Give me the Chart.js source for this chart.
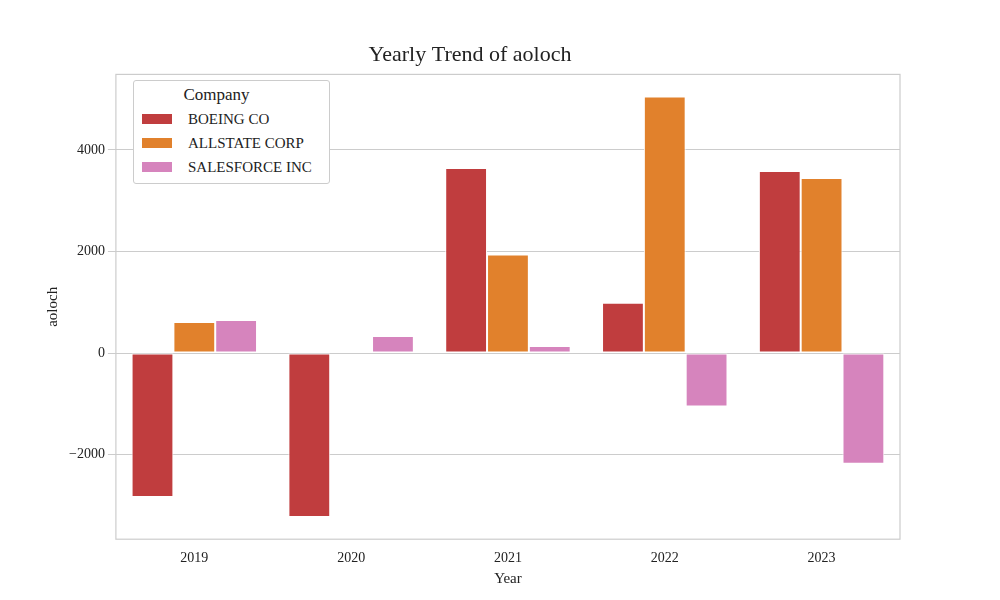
<!DOCTYPE html>
<html><head><meta charset="utf-8">
<script src="https://cdn.jsdelivr.net/npm/chart.js@4"></script>
<style>
body{margin:0;background:#fff;font-family:"Liberation Serif",serif;}
#wrap{position:relative;width:1000px;height:600px;}
#legend{position:absolute;left:133px;top:80px;width:195px;border:1px solid #ccc;border-radius:3px;background:#fff;font-size:15px;color:#222;padding:4px 0 4px 0;}
#legend .t{text-align:center;font-size:17px;margin-bottom:2px;margin-left:-30px}
#legend .r{display:flex;align-items:center;height:24px;padding-left:8px}
#legend .s{width:30px;height:10px;margin-right:16px}
</style></head>
<body><div id="wrap"><canvas id="c" width="1000" height="600"></canvas><div id="legend"></div></div>
<script>
const years = ['2019','2020','2021','2022','2023'];
const companies = ['BOEING CO','ALLSTATE CORP','SALESFORCE INC'];
const boeing = [-2832, -3228, 3644, 990, 3584];
const allstate = [614, 0, 1941, 5050, 3446];
const salesforce = [653, 337, 139, -1050, -2178];
const colors = ['#c03d3e','#e1812c','#d684bd'];
const series = [boeing, allstate, salesforce];

const leg = document.getElementById('legend');
leg.innerHTML = '<div class="t">Company</div>' + companies.map((c,i) =>
  `<div class="r"><div class="s" style="background:${colors[i]}"></div>${c}</div>`).join('');

const frame = {
  id: 'frame',
  afterDraw(chart) {
    const a = chart.chartArea, ctx = chart.ctx;
    ctx.save(); ctx.strokeStyle = '#ccc'; ctx.lineWidth = 1.2;
    ctx.strokeRect(a.left, a.top, a.right - a.left, a.bottom - a.top);
    ctx.restore();
  }
};

new Chart(document.getElementById('c'), {
  type: 'bar',
  data: {
    labels: years,
    datasets: series.map((d,i) => ({
      label: companies[i], data: d, backgroundColor: colors[i],
      borderColor: '#fff', borderWidth: 1, borderSkipped: false
    }))
  },
  options: {
    responsive: false, animation: false,
    categoryPercentage: 0.8, barPercentage: 1,
    layout: { padding: { left: 40, right: 100, top: 0, bottom: 12 } },
    plugins: {
      legend: { display: false },
      tooltip: { enabled: false },
      title: { display: true, text: 'Yearly Trend of aoloch', color: '#222',
        font: { family: 'Liberation Serif', size: 22, weight: 'normal' }, padding: { top: 42, bottom: 6 } }
    },
    scales: {
      x: {
        grid: { display: false }, border: { display: false },
        ticks: { color: '#222', font: { family: 'Liberation Serif', size: 14 } },
        title: { display: true, text: 'Year', color: '#222', font: { family: 'Liberation Serif', size: 15 }, padding: 0 }
      },
      y: {
        min: -3663, max: 5485,
        grid: { color: '#ccc' }, border: { display: false },
        afterBuildTicks: s => { s.ticks = [-2000, 0, 2000, 4000].map(v => ({ value: v })); },
        ticks: { color: '#222', font: { family: 'Liberation Serif', size: 14 },
          callback: v => String(v).replace('-', '\u2212') },
        title: { display: true, text: 'aoloch', color: '#222', font: { family: 'Liberation Serif', size: 15 } }
      }
    }
  },
  plugins: [frame]
});
</script></body></html>
